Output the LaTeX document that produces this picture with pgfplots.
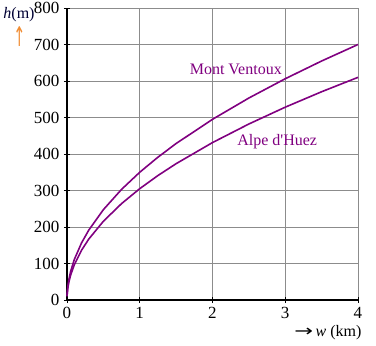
\documentclass[border=0pt]{standalone}
\usepackage{pgfplots}
\pgfplotsset{compat=1.18}
\usepackage{fontspec}
\setmainfont{Liberation Serif}
\newfontfamily\rawfont{Liberation Serif}
\newfontfamily\symfont{DejaVu Sans}
\definecolor{curve}{RGB}{128,0,128}
\definecolor{arr}{RGB}{240,140,50}
\begin{document}
\begin{tikzpicture}[x=1pt,y=1pt]
\useasboundingbox (-67,-46) rectangle (309,300);
\begin{axis}[
  at={(0,0)}, anchor=origin,
  scale only axis, width=291pt, height=292pt,
  xmin=0, xmax=4, ymin=0, ymax=800,
  xtick={0,1,2,3,4}, ytick={0,100,...,800},
  grid=major, grid style={gray!90, line width=0.8pt},
  axis x line=bottom, axis y line=left,
  axis line style={black, line width=2pt, -},
  tick style={black, line width=0.8pt},
  major tick length=6pt,
  tick align=center,
  ticklabel style={font=\fontsize{17}{19}\selectfont},
  /pgf/number format/assume math mode=true,
  xticklabel style={yshift=-1pt},
  yticklabel style={xshift=-1pt},
  clip=false,
]
\addplot[curve, line width=1.6pt] coordinates {
(0,12) (0.002,15.6) (0.01,35) (0.025,55.3) (0.05,78.3) (0.1,110.7) (0.2,156.5) (0.3,191.7) (0.5,247.5) (0.75,303.1) (1,350) (1.25,391.3) (1.5,428.7) (2,495.0) (2.5,553.4) (3,606.2) (3.5,654.8) (4,700)};
\addplot[curve, line width=1.6pt] coordinates {
(0,10) (0.002,13.6) (0.01,30.5) (0.025,48.2) (0.05,68.2) (0.1,96.5) (0.2,136.4) (0.3,167.1) (0.5,215.7) (0.75,264.1) (1,305) (1.25,341.0) (1.5,373.5) (2,431.3) (2.5,482.2) (3,528.3) (3.5,570.6) (4,610)};
\node[text=curve, font=\fontsize{16}{18}\selectfont] at (axis cs:2.32,633) {Mont Ventoux};
\node[text=curve, font=\fontsize{16}{18}\selectfont] at (axis cs:2.89,433) {Alpe d{\rawfont '}Huez};
\end{axis}
\node[font=\fontsize{16}{18}\selectfont, text=black!80!blue] at (-48,285) {\textit{h}(m)};
\node[font=\fontsize{16}{18}\selectfont, text=arr, inner sep=0pt] at (-47.5,263) {{\symfont\scalebox{0.9}[1.7]{↑}}};
\node[font=\fontsize{16}{18}\selectfont, anchor=east] at (298,-33) {{\symfont\scalebox{1.4}[1]{→}}\,\textit{w} (km)};
\end{tikzpicture}
\end{document}
